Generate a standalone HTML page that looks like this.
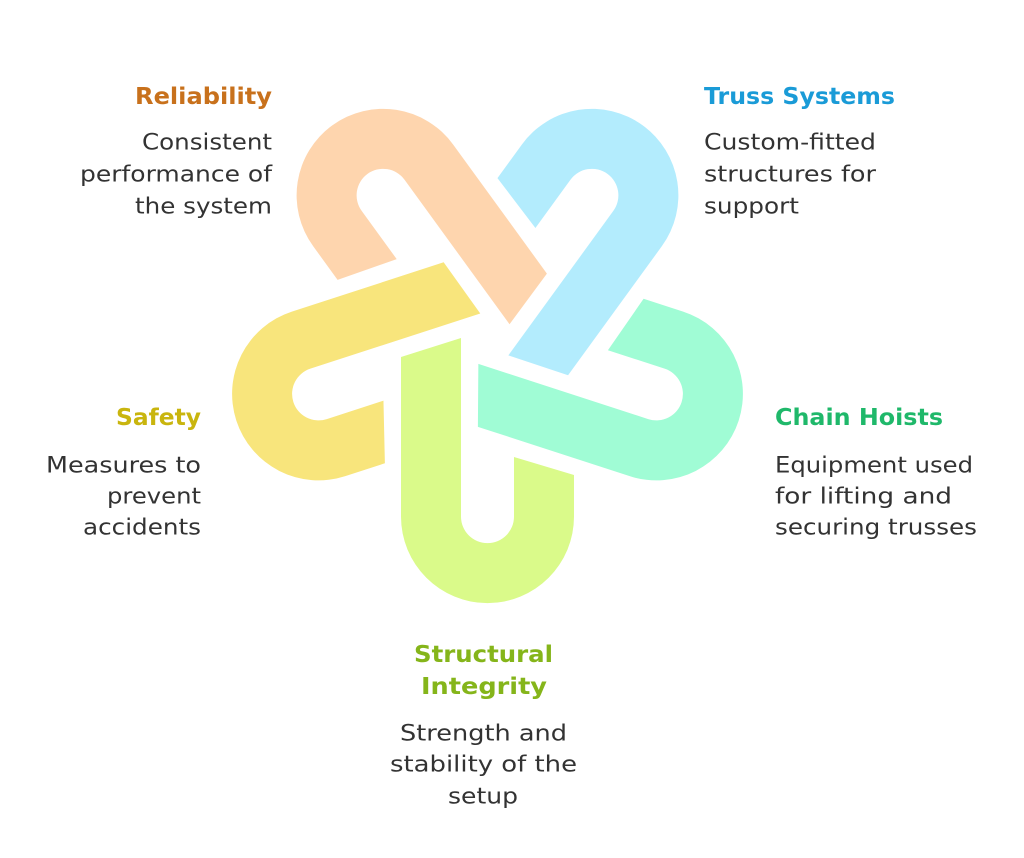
<!DOCTYPE html>
<html><head><meta charset="utf-8"><style>
html,body{margin:0;padding:0;background:#fff;}
svg{display:block}
text{font-family:"DejaVu Sans","Liberation Sans",sans-serif;}
.t{font-weight:bold;font-size:23px;}
.b{font-size:22px;fill:#333;}
</style></head><body>
<svg width="1024" height="858" viewBox="0 0 1024 858" xmlns="http://www.w3.org/2000/svg">
<defs>
<path id="u" d="M-86.5,18 L-86.5,177.6 A86.5,86.5 0 0 0 86.5,177.6 L86.5,136 L26.5,118 L26.5,177.6 A26.5,26.5 0 0 1 -26.5,177.6 L-26.5,-1 Z"/>
</defs>
<g transform="translate(487.5,339)">
<use href="#u" fill="#dafa8a"/>
<use href="#u" fill="#a0fcd5" transform="rotate(-72)"/>
<use href="#u" fill="#b3ecfd" transform="rotate(-144)"/>
<use href="#u" fill="#fed5ae" transform="rotate(144)"/>
<use href="#u" fill="#f8e57c" transform="rotate(72)"/>
</g>
<g dominant-baseline="central">
<text class="t" x="135" y="97" fill="#c8711c" textLength="137" lengthAdjust="spacingAndGlyphs">Reliability</text>
<text class="b" x="142" y="143" textLength="130" lengthAdjust="spacingAndGlyphs">Consistent</text>
<text class="b" x="80" y="175" textLength="192" lengthAdjust="spacingAndGlyphs">performance of</text>
<text class="b" x="135" y="207" textLength="137" lengthAdjust="spacingAndGlyphs">the system</text>

<text class="t" x="704" y="97" fill="#1a9bd7" textLength="191" lengthAdjust="spacingAndGlyphs">Truss Systems</text>
<text class="b" x="704" y="143" textLength="172" lengthAdjust="spacingAndGlyphs">Custom-fitted</text>
<text class="b" x="704" y="175" textLength="172" lengthAdjust="spacingAndGlyphs">structures for</text>
<text class="b" x="704" y="207" textLength="95" lengthAdjust="spacingAndGlyphs">support</text>

<text class="t" x="775" y="418" fill="#1fb86a" textLength="168" lengthAdjust="spacingAndGlyphs">Chain Hoists</text>
<text class="b" x="775" y="466" textLength="198" lengthAdjust="spacingAndGlyphs">Equipment used</text>
<text class="b" x="775" y="497" textLength="177" lengthAdjust="spacingAndGlyphs">for lifting and</text>
<text class="b" x="775" y="528" textLength="202" lengthAdjust="spacingAndGlyphs">securing trusses</text>

<text class="t" x="116" y="418" fill="#c9b50e" textLength="85" lengthAdjust="spacingAndGlyphs">Safety</text>
<text class="b" x="46" y="466" textLength="155" lengthAdjust="spacingAndGlyphs">Measures to</text>
<text class="b" x="107" y="497" textLength="94" lengthAdjust="spacingAndGlyphs">prevent</text>
<text class="b" x="83" y="528" textLength="118" lengthAdjust="spacingAndGlyphs">accidents</text>

<text class="t" x="414" y="655" fill="#85b51a" textLength="139" lengthAdjust="spacingAndGlyphs">Structural</text>
<text class="t" x="421" y="687" fill="#85b51a" textLength="126" lengthAdjust="spacingAndGlyphs">Integrity</text>
<text class="b" x="400" y="734" textLength="167" lengthAdjust="spacingAndGlyphs">Strength and</text>
<text class="b" x="390" y="765" textLength="187" lengthAdjust="spacingAndGlyphs">stability of the</text>
<text class="b" x="448" y="797" textLength="70" lengthAdjust="spacingAndGlyphs">setup</text>
</g>
</svg>
</body></html>
